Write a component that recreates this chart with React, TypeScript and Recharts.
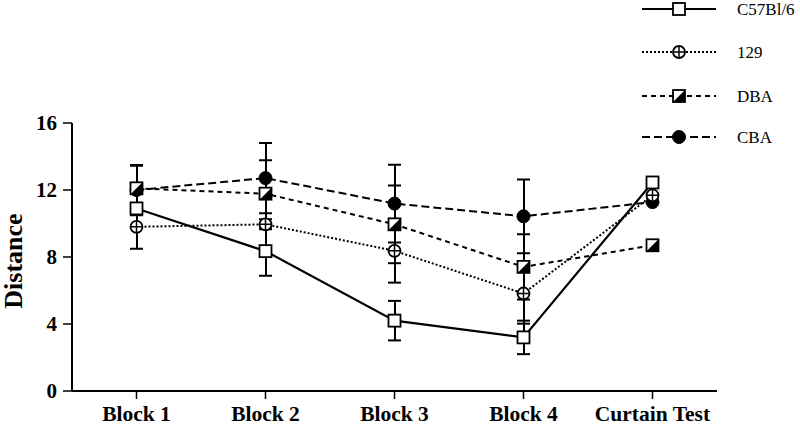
import React from 'react';
import { ComposedChart, Line, Scatter, Bar, XAxis, YAxis, Legend } from 'recharts';

const categories = ['Block 1', 'Block 2', 'Block 3', 'Block 4', 'Curtain Test'];
const c57 = [10.9, 8.35, 4.2, 3.2, 12.45];
const c57Err = [0.3, 1.47, 1.18, 1.0, 0];
const s129 = [9.8, 9.95, 8.37, 5.82, 11.68];
const s129Err = [1.3, 0.3, 1.9, 1.8, 0];
const dba = [12.1, 11.78, 9.95, 7.41, 8.7];
const dbaErr = [1.35, 2.0, 2.32, 1.95, 0];
const cba = [12.0, 12.71, 11.19, 10.43, 11.28];
const cbaErr = [1.5, 2.1, 2.32, 2.2, 0];
const yTicks = [0, 4, 8, 12, 16];

const seriesNames = ['C57Bl/6', '129', 'DBA', 'CBA'];

const data = categories.map((name, i) => ({
  name,
  c57: c57[i],
  c57Err: c57Err[i],
  c57Lo: c57[i] - c57Err[i],
  c57Hi: c57[i] + c57Err[i],
  s129: s129[i],
  s129Err: s129Err[i],
  s129Lo: s129[i] - s129Err[i],
  s129Hi: s129[i] + s129Err[i],
  dba: dba[i],
  dbaErr: dbaErr[i],
  dbaLo: dba[i] - dbaErr[i],
  dbaHi: dba[i] + dbaErr[i],
  cba: cba[i],
  cbaErr: cbaErr[i],
  cbaLo: cba[i] - cbaErr[i],
  cbaHi: cba[i] + cbaErr[i],
}));

const FONT = "'Liberation Serif', 'Times New Roman', Times, serif";
const S = 6;

const SquareMark = ({ cx, cy }: any) => (
  <rect x={cx - S} y={cy - S} width={2 * S} height={2 * S} fill="#fff" stroke="#000" strokeWidth={1.8} />
);
const CrossCircleMark = ({ cx, cy }: any) => (
  <g>
    <circle cx={cx} cy={cy} r={S} fill="#fff" stroke="#000" strokeWidth={1.8} />
    <line x1={cx - S} y1={cy} x2={cx + S} y2={cy} stroke="#000" strokeWidth={1.5} />
    <line x1={cx} y1={cy - S} x2={cx} y2={cy + S} stroke="#000" strokeWidth={1.5} />
  </g>
);
const HalfSquareMark = ({ cx, cy }: any) => (
  <g>
    <rect x={cx - S} y={cy - S} width={2 * S} height={2 * S} fill="#fff" stroke="#000" strokeWidth={1.8} />
    <polygon points={`${cx + S},${cy - S} ${cx + S},${cy + S} ${cx - S},${cy + S}`} fill="#000" />
  </g>
);
const FilledCircleMark = ({ cx, cy }: any) => (
  <circle cx={cx} cy={cy} r={S + 0.5} fill="#000" stroke="#000" strokeWidth={1} />
);

const marks = [SquareMark, CrossCircleMark, HalfSquareMark, FilledCircleMark];
const dashes = [undefined, '2 2', '5 4', '8 4'];

const makeShape = (Mark: any) => (props: any) => {
  const { cx, cy } = props;
  if (cx == null || cy == null || isNaN(cx) || isNaN(cy)) return <g />;
  return <Mark cx={cx} cy={cy} />;
};

const makeCap = (errKey: string) => (props: any) => {
  const { cx, cy, payload } = props;
  const p = payload || (props.node && props.node.payload) || {};
  if (cx == null || cy == null || isNaN(cx) || isNaN(cy) || !p[errKey]) return <g />;
  return <line x1={cx - 6.5} y1={cy} x2={cx + 6.5} y2={cy} stroke="#000" strokeWidth={2} />;
};

const LegendContent = () => (
  <svg width={170} height={150} style={{ display: 'block', overflow: 'visible' }}>
    {seriesNames.map((n, i) => {
      const y = [9, 52, 96, 137][i];
      const Mark = marks[i];
      return (
        <g key={n}>
          <line x1={12} y1={y} x2={86} y2={y} stroke="#000" strokeWidth={2} strokeDasharray={dashes[i]} />
          <Mark cx={49} cy={y} />
          <text x={107} y={y + 6} fontFamily={FONT} fontSize={17} fill="#000">
            {n}
          </text>
        </g>
      );
    })}
  </svg>
);

const YLabel = (props: any) => {
  const vb = props.viewBox || { x: 0, y: 123, width: 72, height: 268 };
  const x = vb.x + 22;
  const y = vb.y + vb.height / 2 + 4;
  return (
    <text
      x={x}
      y={y}
      transform={`rotate(-90, ${x}, ${y})`}
      textAnchor="middle"
      fontFamily={FONT}
      fontWeight="bold"
      fontSize={26}
      fill="#000"
    >
      Distance
    </text>
  );
};

const series = [
  { key: 'cba', dash: '8 4', mark: FilledCircleMark },
  { key: 'dba', dash: '5 4', mark: HalfSquareMark },
  { key: 's129', dash: '2 2', mark: CrossCircleMark },
  { key: 'c57', dash: undefined, mark: SquareMark },
];

export default function App() {
  return (
    <div style={{ position: 'absolute', left: 0, top: 0, width: 800, height: 425, background: '#fff' }}>
      <ComposedChart
        width={800}
        height={425}
        data={data}
        margin={{ top: 123, right: 83, bottom: 0, left: 0 }}
        barCategoryGap={0}
      >
        <XAxis
          dataKey="name"
          height={34}
          axisLine={{ stroke: '#000', strokeWidth: 2 }}
          tickLine={{ stroke: '#000', strokeWidth: 1.5 }}
          tickSize={8}
          tickMargin={7}
          tick={{ fontFamily: FONT, fontWeight: 'bold', fontSize: 21.5, fill: '#000' }}
          interval={0}
        />
        {series.map((s) => (
          <XAxis key={`ax-${s.key}`} xAxisId={`ax-${s.key}`} dataKey="name" hide />
        ))}
        <YAxis
          width={72}
          domain={[0, 16]}
          ticks={yTicks}
          allowDataOverflow
          axisLine={{ stroke: '#000', strokeWidth: 2 }}
          tickLine={{ stroke: '#000', strokeWidth: 1.5 }}
          tickSize={9}
          tickMargin={6}
          tick={{ fontFamily: FONT, fontWeight: 'bold', fontSize: 21, fill: '#000' }}
          label={<YLabel />}
        />
        <Legend
          layout="vertical"
          align="center"
          verticalAlign="middle"
          wrapperStyle={{ top: 0, left: 630, width: 170, height: 150 }}
          content={() => <LegendContent />}
        />
        {series.map((s) => (
          <Bar
            key={`whisk-${s.key}`}
            xAxisId={`ax-${s.key}`}
            dataKey={(d: any) => [d[`${s.key}Lo`], d[`${s.key}Hi`]]}
            barSize={2}
            fill="#000"
            legendType="none"
            isAnimationActive={false}
            activeBar={false}
          />
        ))}
        {series.map((s) => (
          <Line
            key={`line-${s.key}`}
            dataKey={s.key}
            stroke="#000"
            strokeWidth={s.key === 'c57' ? 2.2 : 2}
            strokeDasharray={s.dash}
            dot={false}
            activeDot={false}
            legendType="none"
            isAnimationActive={false}
          />
        ))}
        {series.map((s) => (
          <Scatter
            key={`hi-${s.key}`}
            dataKey={`${s.key}Hi`}
            shape={makeCap(`${s.key}Err`)}
            legendType="none"
            isAnimationActive={false}
          />
        ))}
        {series.map((s) => (
          <Scatter
            key={`lo-${s.key}`}
            dataKey={`${s.key}Lo`}
            shape={makeCap(`${s.key}Err`)}
            legendType="none"
            isAnimationActive={false}
          />
        ))}
        {series.map((s) => (
          <Scatter
            key={`dots-${s.key}`}
            dataKey={s.key}
            shape={makeShape(s.mark)}
            legendType="none"
            isAnimationActive={false}
          />
        ))}
      </ComposedChart>
    </div>
  );
}
